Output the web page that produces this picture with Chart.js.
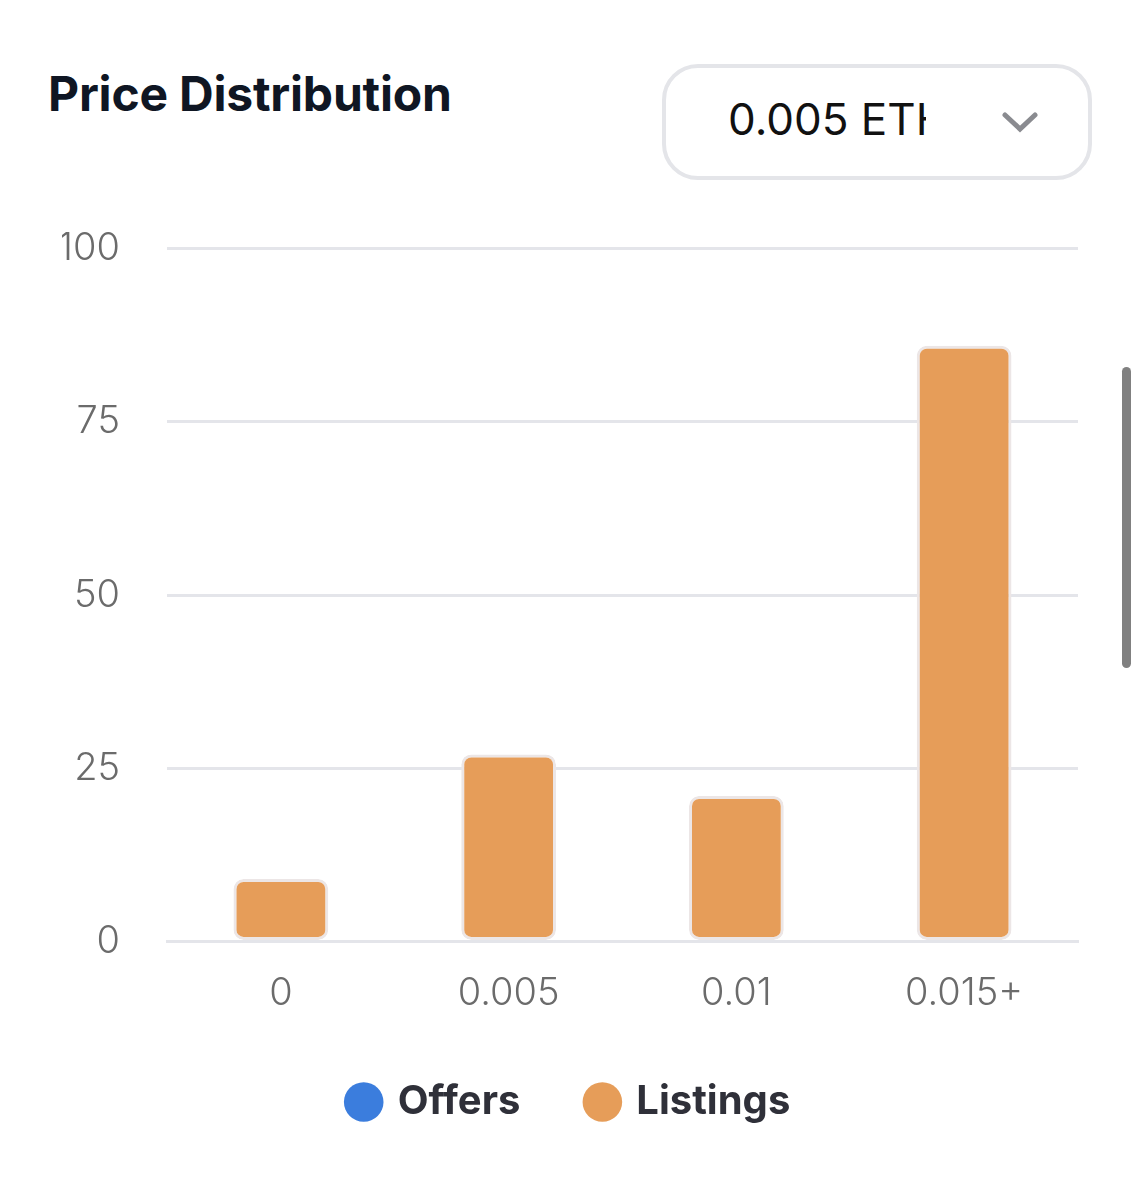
<!DOCTYPE html>
<html>
<head>
<meta charset="utf-8">
<title>Price Distribution</title>
<script src="https://cdn.jsdelivr.net/npm/chart.js"></script>
<style>
  html, body { margin: 0; padding: 0; background: #fff; }
  body { width: 1140px; height: 1200px; position: relative; overflow: hidden; font-family: Inter, "Noto Sans", sans-serif; }
  .title { position: absolute; left: 48px; top: 64px; font-size: 48px; font-weight: 700; color: #0f1623; letter-spacing: -0.2px; }
  .select { position: absolute; left: 662px; top: 64px; width: 422px; height: 108px; border: 4px solid #e4e5e9; border-radius: 36px; box-sizing: content-box; }
  .select .val { position: absolute; left: 62px; top: 24px; width: 198px; overflow: hidden; white-space: nowrap; font-size: 44px; color: #111; }
  .select svg { position: absolute; left: 336px; top: 42px; }
  .scroll { position: absolute; left: 1122px; top: 367px; width: 9px; height: 301px; background: #808080; border-radius: 5px; }
  .wrap { position: absolute; left: 0; top: 179px; width: 1140px; height: 981px; }
</style>
</head>
<body>
<div class="title">Price Distribution</div>
<div class="select">
  <div class="val">0.005 ETH</div>
  <svg width="36" height="24" viewBox="0 0 36 24"><polyline points="3,5 18,19 33,5" fill="none" stroke="#8a8b90" stroke-width="5" stroke-linecap="round"/></svg>
</div>
<div class="scroll"></div>
<div class="wrap"><canvas id="chartCanvas"></canvas></div>
<script>
  var categories = ['0', '0.005', '0.01', '0.015+'];
  var offers = [null, null, null, null];
  var listings = [9, 27, 21, 86];
  var yTicks = [0, 25, 50, 75, 100];

  var ctx = document.getElementById('chartCanvas').getContext('2d');
  var chart = new Chart(ctx, {
    type: 'bar',
    data: {
      labels: categories,
      datasets: [{
        label: 'Offers',
        data: offers,
        backgroundColor: '#3b7ddd',
        borderColor: '#3b7ddd',
        borderWidth: 0
      }, {
        label: 'Listings',
        data: listings,
        backgroundColor: '#e69d59',
        borderColor: '#ece6e6',
        borderWidth: 3,
        borderRadius: 10,
        borderSkipped: false
      }]
    },
    options: {
      responsive: true,
      maintainAspectRatio: false,
      animation: false,
      grouped: false,
      categoryPercentage: 0.8,
      barPercentage: 0.52,
      layout: { padding: { left: 62, right: 62, top: 6, bottom: 28 } },
      plugins: {
        tooltip: { enabled: false },
        legend: {
          position: 'bottom',
          labels: {
            usePointStyle: true,
            pointStyle: 'circle',
            boxWidth: 28,
            boxHeight: 28,
            padding: 68,
            color: '#2f3039',
            font: { family: 'Inter', size: 40, weight: 'bold' },
            generateLabels: function (c) {
              var items = Chart.defaults.plugins.legend.labels.generateLabels(c);
              items.forEach(function (it) { it.lineWidth = 0; it.strokeStyle = it.fillStyle; });
              return items;
            }
          }
        }
      },
      scales: {
        x: {
          grid: { display: false },
          border: { display: true, color: '#e4e5ea', width: 3 },
          ticks: { color: '#6b6b6b', padding: 21, font: { family: 'Inter', size: 38, weight: '300' } },
          afterFit: function (axis) { axis.height -= 23; }
        },
        y: {
          min: 0,
          max: 100,
          afterBuildTicks: function (axis) {
            axis.ticks = yTicks.map(function (v) { return { value: v }; });
          },
          afterFit: function (axis) { axis.width = 105; },
          grid: { color: '#e4e5ea', lineWidth: 3, drawTicks: false },
          border: { display: false },
          ticks: { color: '#6b6b6b', padding: 47, font: { family: 'Inter', size: 38, weight: '300' } }
        }
      }
    }
  });
</script>
</body>
</html>
